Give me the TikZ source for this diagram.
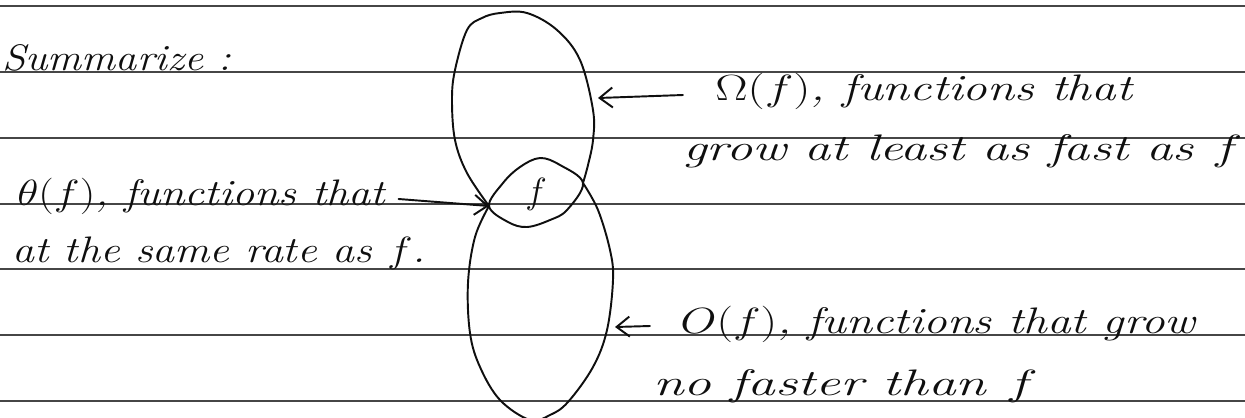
\documentclass[tikz,border=0pt]{standalone}
\usepackage{amsmath}
\usepackage{amssymb}
\usepackage{graphicx}
\usepackage{tikz}
\usetikzlibrary{arrows.meta}
\definecolor{ruleline}{RGB}{70,70,70}
\definecolor{pencil}{RGB}{15,15,15}
\newcommand{\handtxt}[2]{\scalebox{#1}[1]{#2}}
\tikzset{
  ruled/.style     = {draw=ruleline, line width=0.9pt},
  handline/.style  = {draw=pencil, line width=1.1pt, line cap=round, line join=round},
  handarrow/.style = {handline, -{Straight Barb[length=2.6mm, width=4mm, line width=1.1pt]}},
  notetext/.style  = {anchor=base west, inner sep=0pt, text=pencil,
                      font=\fontsize{21}{25}\selectfont\itshape}
}
\begin{document}
\begin{tikzpicture}[x=0.02cm, y=-0.02cm]
\useasboundingbox (0,0) rectangle (1245,417);
\foreach \ry in {6,72,138,204,269,335,401}
  \draw[ruled] (0,\ry) -- (1245,\ry);

\coordinate (cross)    at (489,206);
\coordinate (omegatip) at (598,98);
\coordinate (bigotip)  at (615,327);

\draw[handline] plot[smooth, tension=0.6] coordinates {(cross) (467,173) (455,140) (452,100)
  (455,70) (467,30) (482,18) (500,13) (527,13) (557,30) (580,60) (593,110) (593,140)
  (588,165) (583,183)};
\draw[handline] plot[smooth, tension=0.6] coordinates {(cross) (475,237) (468,283) (470,333)
  (480,367) (500,400) (530,420) (550,415) (568,402) (593,367) (607,330) (613,280)
  (610,250) (598,210) (583,183)};
\draw[handline] plot[smooth cycle, tension=0.6] coordinates {(cross) (503,183) (520,167)
  (540,158) (560,165) (583,183) (567,210) (550,220) (527,227) (508,222)};
\node[notetext, anchor=center] (fmark) at (536,194) {$f$};

\node[notetext] (summ)      at (2,70)    {\handtxt{1.15}{Summarize :}};
\node[notetext] (omegatxt)  at (715,100) {\handtxt{1.33}{$\Omega(f)$, functions that}};
\node[notetext] (omegatxt2) at (683,160) {\handtxt{1.42}{grow at least as fast as $f$}};
\node[notetext] (thetatxt)  at (17,205)  {\handtxt{1.2}{$\theta(f)$, functions that}};
\node[notetext] (thetatxt2) at (12,262)  {\handtxt{1.19}{at the same rate as $f$.}};
\node[notetext] (bigotxt)   at (680,333) {\handtxt{1.28}{$O(f)$, functions that grow}};
\node[notetext] (bigotxt2)  at (653,395) {\handtxt{1.5}{no faster than $f$}};

\draw[handarrow] ([shift={(-32,-5)}]omegatxt.base west) -- (omegatip);
\draw[handarrow] ([shift={(13,-6)}]thetatxt.base east) -- (cross);
\draw[handarrow] ([shift={(-30,-7)}]bigotxt.base west) -- (bigotip);
\end{tikzpicture}
\end{document}
